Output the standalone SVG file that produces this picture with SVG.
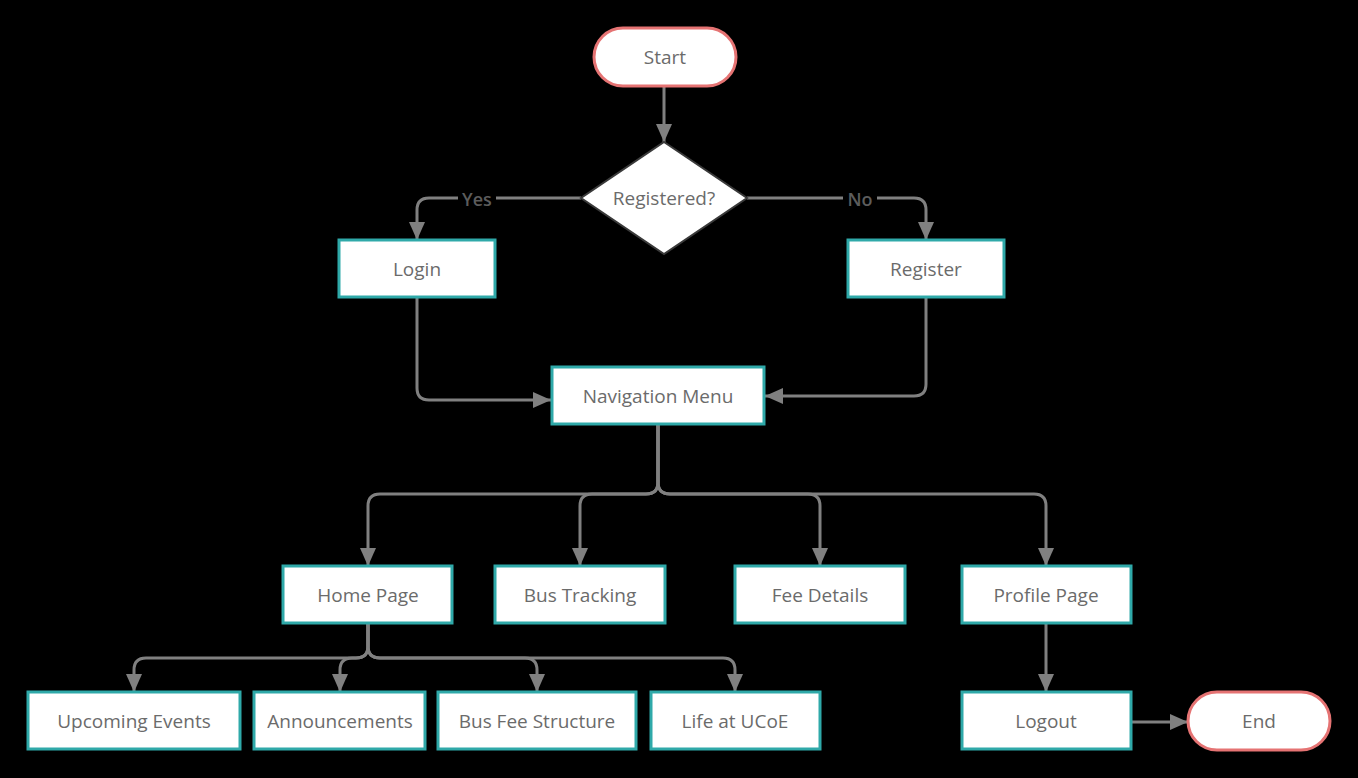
<svg xmlns="http://www.w3.org/2000/svg" width="1358" height="778" viewBox="0 0 1358 778">
<style>
.box{fill:#fff;stroke:#2fa9a9;stroke-width:3}
.term{fill:#fff;stroke:#e57373;stroke-width:3}
.dia{fill:#fff;stroke:#3a3a3a;stroke-width:2}
.lbl{font-family:"Open Sans","Liberation Sans",sans-serif;font-size:19px;fill:#6b6b6b;text-anchor:middle;dominant-baseline:central}
.yn{font-family:"Open Sans","Liberation Sans",sans-serif;font-size:18px;font-weight:600;fill:#5c5c5c;text-anchor:middle;dominant-baseline:central}
.con{fill:none;stroke:#808080;stroke-width:3;marker-end:url(#arr)}
</style>
<defs>
<marker id="arr" viewBox="0 0 18 16" markerWidth="18" markerHeight="16" refX="18" refY="8" orient="auto" markerUnits="userSpaceOnUse">
<path d="M0,0 L18,8 L0,16 z" fill="#808080"/>
</marker>
</defs>
<rect x="0" y="0" width="1358" height="778" fill="#000"/>
<g id="connectors">
<path class="con" d="M664 86 V142"/>
<path class="con" d="M581 198 H429 Q417 198 417 210 V240"/>
<path class="con" d="M747 198 H914 Q926 198 926 210 V240"/>
<path class="con" d="M417 297 V388 Q417 400 429 400 H551"/>
<path class="con" d="M926 297 V384 Q926 396 914 396 H765"/>
<path class="con" d="M658 424 V482 Q658 494 646 494 H380 Q368 494 368 506 V566"/>
<path class="con" d="M658 424 V482 Q658 494 646 494 H592 Q580 494 580 506 V566"/>
<path class="con" d="M658 424 V482 Q658 494 670 494 H808 Q820 494 820 506 V566"/>
<path class="con" d="M658 424 V482 Q658 494 670 494 H1034 Q1046 494 1046 506 V566"/>
<path class="con" d="M368 623 V646 Q368 658 356 658 H146 Q134 658 134 670 V692"/>
<path class="con" d="M368 623 V646 Q368 658 356 658 H352 Q340 658 340 670 V692"/>
<path class="con" d="M368 623 V646 Q368 658 380 658 H525 Q537 658 537 670 V692"/>
<path class="con" d="M368 623 V646 Q368 658 380 658 H723 Q735 658 735 670 V692"/>
<path class="con" d="M1046 623 V692"/>
<path class="con" d="M1131 722 H1188"/>
<rect x="458" y="188" width="38" height="22" fill="#000"/>
<text class="yn" x="477" y="199">Yes</text>
<rect x="843" y="188" width="34" height="22" fill="#000"/>
<text class="yn" x="860" y="199">No</text>
</g>
<g id="start"><rect class="term" x="594" y="28" width="142" height="58" rx="29"/><text class="lbl" x="665" y="57">Start</text></g>
<g id="registered"><path class="dia" d="M664 142 L747 198 L664 254 L581 198 Z"/><text class="lbl" x="664" y="198">Registered?</text></g>
<g id="login"><rect class="box" x="339" y="240" width="156" height="57"/><text class="lbl" x="417" y="269">Login</text></g>
<g id="register"><rect class="box" x="848" y="240" width="156" height="57"/><text class="lbl" x="926" y="269">Register</text></g>
<g id="nav"><rect class="box" x="552" y="367" width="212" height="57"/><text class="lbl" x="658" y="396">Navigation Menu</text></g>
<g id="home"><rect class="box" x="283" y="566" width="169" height="57"/><text class="lbl" x="368" y="595">Home Page</text></g>
<g id="bus"><rect class="box" x="495" y="566" width="170" height="57"/><text class="lbl" x="580" y="595">Bus Tracking</text></g>
<g id="fee"><rect class="box" x="735" y="566" width="170" height="57"/><text class="lbl" x="820" y="595">Fee Details</text></g>
<g id="profile"><rect class="box" x="962" y="566" width="169" height="57"/><text class="lbl" x="1046" y="595">Profile Page</text></g>
<g id="events"><rect class="box" x="28" y="692" width="212" height="57"/><text class="lbl" x="134" y="721">Upcoming Events</text></g>
<g id="announce"><rect class="box" x="254" y="692" width="171" height="57"/><text class="lbl" x="340" y="721">Announcements</text></g>
<g id="busfee"><rect class="box" x="438" y="692" width="198" height="57"/><text class="lbl" x="537" y="721">Bus Fee Structure</text></g>
<g id="life"><rect class="box" x="651" y="692" width="169" height="57"/><text class="lbl" x="735" y="721">Life at UCoE</text></g>
<g id="logout"><rect class="box" x="962" y="692" width="169" height="57"/><text class="lbl" x="1046" y="721">Logout</text></g>
<g id="end"><rect class="term" x="1188" y="692" width="142" height="58" rx="29"/><text class="lbl" x="1259" y="721">End</text></g>
</svg>
